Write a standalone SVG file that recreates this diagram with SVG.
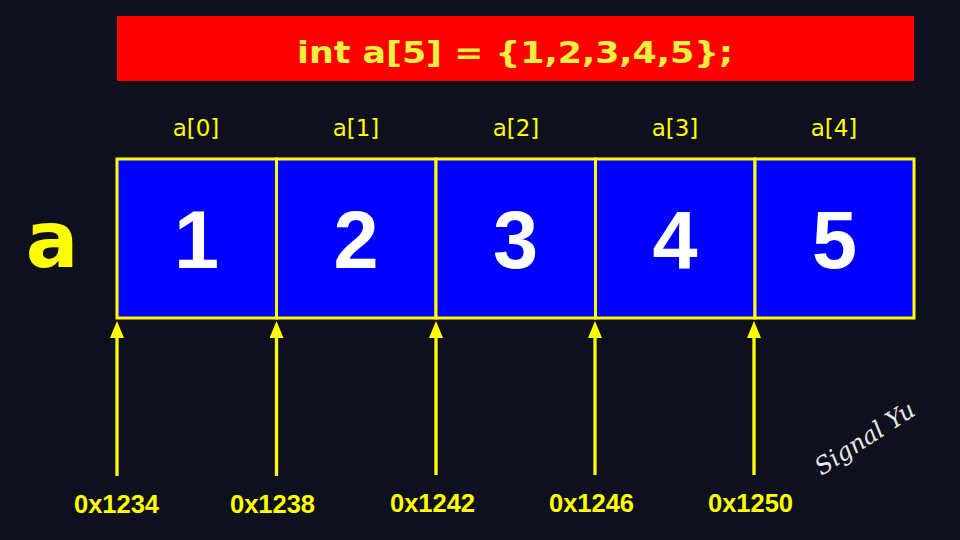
<svg xmlns="http://www.w3.org/2000/svg" width="960" height="540" viewBox="0 0 960 540">
  <defs>
    <marker id="arrow" viewBox="0 0 17 14" refX="0" refY="7" markerWidth="17" markerHeight="14" markerUnits="userSpaceOnUse" orient="auto">
      <path d="M0,0 L17,7 L0,14 Z" fill="#ffff00"/>
    </marker>
    <style>
      .cell { fill: #0000ff; stroke: #ffff00; stroke-width: 3; }
      .val { font-family: "Liberation Sans", Arial, sans-serif; font-weight: bold; font-size: 81px; fill: #ffffff; text-anchor: middle; }
      .idx { font-family: "Comic Sans MS", "DejaVu Sans", sans-serif; font-size: 23px; fill: #ffff00; text-anchor: middle; }
      .addr { font-family: "Liberation Sans", Arial, sans-serif; font-weight: bold; font-size: 25.5px; fill: #ffff00; text-anchor: middle; }
      .conn line { stroke: #ffff00; stroke-width: 3.3; }
    </style>
  </defs>
  <rect width="960" height="540" fill="#0e111d"/>

  <g id="title">
    <rect x="117" y="16" width="797" height="65" fill="#ff0000"/>
    <text x="515" y="63" font-family="'Comic Sans MS', 'DejaVu Sans', sans-serif" font-weight="bold" font-size="31" fill="#f0f040" text-anchor="middle" textLength="436" lengthAdjust="spacingAndGlyphs">int a[5] = {1,2,3,4,5};</text>
  </g>

  <g id="var-a">
    <text x="52" y="267" font-family="'Comic Sans MS', 'DejaVu Sans', sans-serif" font-weight="bold" font-size="78" fill="#ffff00" text-anchor="middle">a</text>
  </g>

  <g id="labels">
    <text class="idx" x="196" y="136">a[0]</text>
    <text class="idx" x="356" y="136">a[1]</text>
    <text class="idx" x="516" y="136">a[2]</text>
    <text class="idx" x="675" y="136">a[3]</text>
    <text class="idx" x="834" y="136">a[4]</text>
  </g>

  <g id="cell0"><rect class="cell" x="117" y="159" width="159.5" height="159"/><text class="val" x="196.5" y="268">1</text></g>
  <g id="cell1"><rect class="cell" x="276.5" y="159" width="159.5" height="159"/><text class="val" x="356" y="268">2</text></g>
  <g id="cell2"><rect class="cell" x="436" y="159" width="159.5" height="159"/><text class="val" x="515.5" y="268">3</text></g>
  <g id="cell3"><rect class="cell" x="595.5" y="159" width="159.5" height="159"/><text class="val" x="675" y="268">4</text></g>
  <g id="cell4"><rect class="cell" x="755" y="159" width="159" height="159"/><text class="val" x="834.5" y="268">5</text></g>

  <g id="connectors" class="conn">
    <line x1="117" y1="476" x2="117" y2="338" marker-end="url(#arrow)"/>
    <line x1="276.5" y1="476" x2="276.5" y2="338" marker-end="url(#arrow)"/>
    <line x1="436" y1="475" x2="436" y2="338" marker-end="url(#arrow)"/>
    <line x1="595" y1="475" x2="595" y2="338" marker-end="url(#arrow)"/>
    <line x1="754" y1="475" x2="754" y2="338" marker-end="url(#arrow)"/>
  </g>

  <g id="addresses">
    <text class="addr" x="116.5" y="513">0x1234</text>
    <text class="addr" x="272.5" y="513">0x1238</text>
    <text class="addr" x="432.5" y="512">0x1242</text>
    <text class="addr" x="591.5" y="512">0x1246</text>
    <text class="addr" x="750.5" y="512">0x1250</text>
  </g>

  <g id="watermark">
    <text x="866" y="446" font-family="'DejaVu Serif', serif" font-style="italic" font-size="24" fill="#e8e8e8" text-anchor="middle" transform="rotate(-33 866 440)">Signal Yu</text>
  </g>
</svg>
